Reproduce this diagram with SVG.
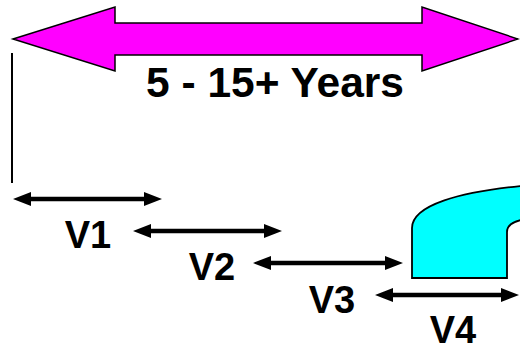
<svg xmlns="http://www.w3.org/2000/svg" width="520" height="346" viewBox="0 0 520 346">
<style>
.lbl{font-family:"Liberation Sans",Arial,sans-serif;font-weight:bold;fill:#000;text-anchor:middle}
.arr{fill:#000;stroke:none}
</style>
<rect width="520" height="346" fill="#fff"/>
<g id="span">
<polygon points="13,39 115,7 115,23 422,23 422,7 518,39 422,71 422,55 115,55 115,71" fill="#FF00FF" stroke="#000" stroke-width="1.5" stroke-linejoin="miter"/>
<text class="lbl" x="275" y="97" font-size="42.5">5 - 15+ Years</text>
</g>
<g id="marker-line">
<line x1="12" y1="53" x2="12" y2="183" stroke="#000" stroke-width="2"/>
</g>
<g id="shape">
<path d="M412,278 V228 C412,205 460,192 521,186 V220 C512,222 507,226 507,232 V278 Z" fill="#00FFFF" stroke="#000" stroke-width="1.8"/>
</g>
<g id="connectors">
<polygon class="arr" points="13,199 31,192 31,196.7 144,196.7 144,192 162,199 144,206 144,201.3 31,201.3 31,206"/>
<polygon class="arr" points="133,231 151,224 151,228.7 264,228.7 264,224 282,231 264,238 264,233.3 151,233.3 151,238"/>
<polygon class="arr" points="253,263 271,256 271,260.7 385,260.7 385,256 403,263 385,270 385,265.3 271,265.3 271,270"/>
<polygon class="arr" points="375,295 393,288 393,292.7 501,292.7 501,288 519,295 501,302 501,297.3 393,297.3 393,302"/>
</g>
<g id="v1"><text class="lbl" x="88" y="248" font-size="38">V1</text></g>
<g id="v2"><text class="lbl" x="212" y="280" font-size="38">V2</text></g>
<g id="v3"><text class="lbl" x="332" y="313" font-size="38">V3</text></g>
<g id="v4"><text class="lbl" x="453" y="343" font-size="38">V4</text></g>
</svg>
